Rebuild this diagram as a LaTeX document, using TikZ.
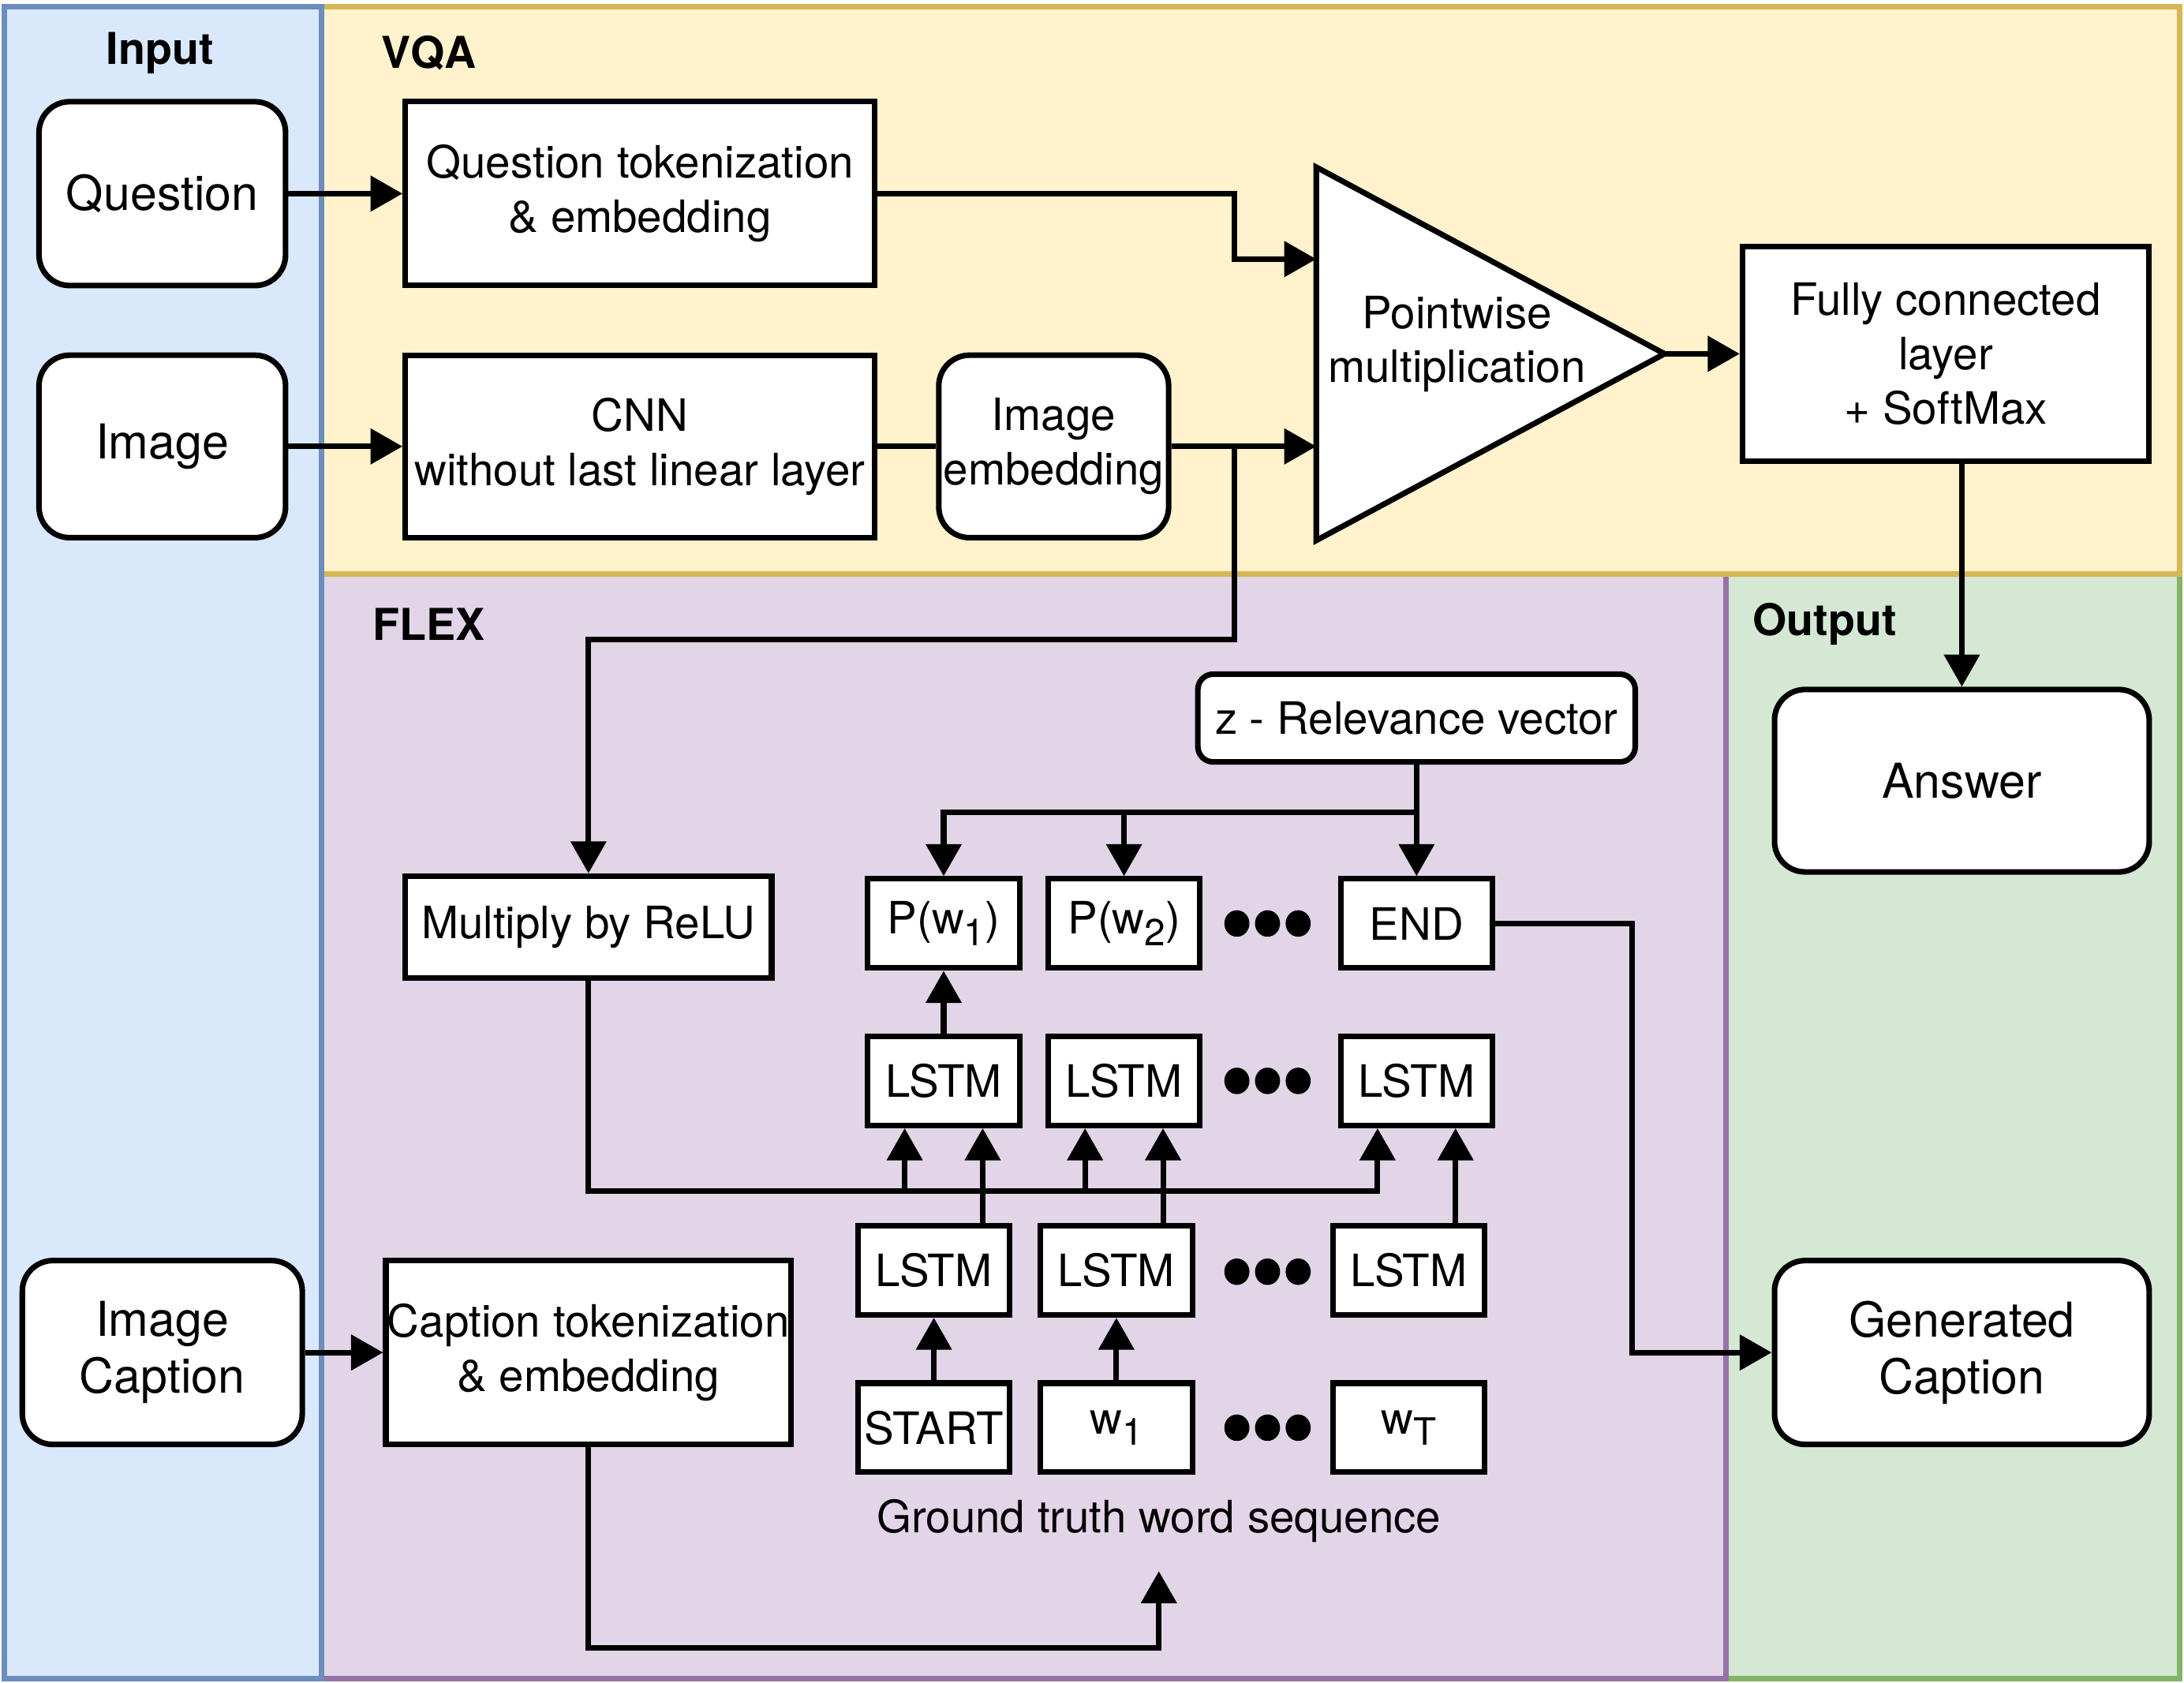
\documentclass[tikz,border=0pt]{standalone}
\usepackage{fontspec}
\setmainfont{TeX Gyre Heros}
\usetikzlibrary{arrows.meta}
\definecolor{inputfill}{HTML}{DAE8FC}
\definecolor{inputline}{HTML}{6C8EBF}
\definecolor{vqafill}{HTML}{FFF2CC}
\definecolor{vqaline}{HTML}{D6B656}
\definecolor{flexfill}{HTML}{E1D5E7}
\definecolor{flexline}{HTML}{9673A6}
\definecolor{outputfill}{HTML}{D5E8D4}
\definecolor{outputline}{HTML}{82B366}
\tikzset{
  lane/.style={line width=4pt},
  lanelabel/.style={font=\fontsize{31.5}{37}\selectfont\bfseries},
  box/.style={draw, fill=white, line width=4pt, inner sep=0pt, align=center, font=\fontsize{32}{39}\selectfont},
  rbox/.style={box, rounded corners=22pt},
  iobox/.style={rbox, font=\fontsize{34.5}{41}\selectfont},
  wire/.style={line width=4pt},
  flow/.style={wire, -{Triangle[length=23pt,width=25pt]}},
}
\newcommand{\wsub}[1]{\raisebox{-8pt}{\fontsize{27}{27}\selectfont #1}}
\begin{document}
\begin{tikzpicture}[x=1pt,y=-1pt]
	\useasboundingbox (0,0) rectangle (1568,1208);
	%lanes
	\draw[lane,draw=outputline,fill=outputfill] (1239,412) rectangle (1565,1205);
	\draw[lane,draw=flexline,fill=flexfill] (231,412) rectangle (1239,1205);
	\draw[lane,draw=vqaline,fill=vqafill] (231,5) rectangle (1565,412);
	\draw[lane,draw=inputline,fill=inputfill] (3,5) rectangle (231,1205);
	\node[lanelabel](inputlbl) at (115,38) {Input};
	\node[lanelabel](vqalbl) at (308,38) {VQA};
	\node[lanelabel](flexlbl) at (308,448) {FLEX};
	\node[lanelabel](outputlbl) at (1310,448) {Output};
	%inputs
	\node[iobox,minimum width=177,minimum height=132](question) at (116.5,139) {Question};
	\node[iobox,minimum width=177,minimum height=131](image) at (116.5,320.5) {Image};
	\node[iobox,minimum width=201,minimum height=132](imgcap) at (116.5,971) {Image\\Caption};
	%vqa
	\node[box,minimum width=337,minimum height=132](qtok) at (459.5,139) {Question tokenization\\\& embedding};
	\node[box,minimum width=337,minimum height=131](cnn) at (459.5,320.5) {CNN\\without last linear layer};
	\node[rbox,minimum width=165,minimum height=131](imgemb) at (756.5,320.5) {Image\\embedding};
	\draw[wire,fill=white] (945,120) -- (1195,254) -- (945,388) -- cycle;
	\node[align=center,font=\fontsize{32}{39}\selectfont](pwlbl) at (1046,247) {Pointwise\\multiplication};
	\coordinate (pwin1) at (945,186);
	\coordinate (pwin2) at (945,320.5);
	\coordinate (pwout) at (1195,254);
	\node[box,minimum width=292,minimum height=154](fc) at (1397,254) {Fully connected\\layer\\+ SoftMax};
	%outputs
	\node[iobox,minimum width=269,minimum height=131](answer) at (1408.5,560.5) {Answer};
	\node[iobox,minimum width=269,minimum height=132](gencap) at (1408.5,971) {Generated\\Caption};
	%flex
	\node[rbox,rounded corners=11pt,minimum width=314,minimum height=63](zrel) at (1017,515.5) {z - Relevance vector};
	\node[box,minimum width=263,minimum height=73](relu) at (422.5,665.5) {Multiply by ReLU};
	\node[box,minimum width=291,minimum height=132](captok) at (422.5,971) {Caption tokenization\\\& embedding};
	\node[box,minimum width=109,minimum height=64](pw1) at (677.5,663) {P(w\wsub{1})};
	\node[box,minimum width=109,minimum height=64](pw2) at (807,663) {P(w\wsub{2})};
	\node[box,minimum width=109,minimum height=64](endw) at (1017,663) {END};
	\node[box,minimum width=109,minimum height=64](la1) at (677.5,776) {LSTM};
	\node[box,minimum width=109,minimum height=64](la2) at (807,776) {LSTM};
	\node[box,minimum width=109,minimum height=64](la3) at (1017,776) {LSTM};
	\node[box,minimum width=109,minimum height=64](lb1) at (670.5,912) {LSTM};
	\node[box,minimum width=109,minimum height=64](lb2) at (801.5,912) {LSTM};
	\node[box,minimum width=109,minimum height=64](lb3) at (1011.5,912) {LSTM};
	\node[box,minimum width=109,minimum height=64](start) at (670.5,1025) {START};
	\node[box,minimum width=109,minimum height=64](w1) at (801.5,1025) {w\wsub{1}};
	\node[box,minimum width=109,minimum height=64](wt) at (1011.5,1025) {w\wsub{T}};
	\node[font=\fontsize{32}{39}\selectfont](gts) at (832,1092) {Ground truth word sequence};
	\foreach \y in {663,776,913,1025}
		\foreach \x in {888,910,932}
			\fill (\x,\y) ellipse (9pt and 9.5pt);
	%helper points
	\coordinate (split) at (886,320.5);
	\coordinate (turn) at (886,459);
	\coordinate (zsplit) at (1017,583);
	\coordinate (bus) at (422.5,855);
	\coordinate (capturn) at (832,1183);
	\coordinate (gtsin) at (832,1128);
	\coordinate (endturn) at (1172,663);
	\foreach \i in {1,2,3} {
		\coordinate (ra\i) at ([xshift=-28pt]la\i.south);
		\coordinate (ha\i) at ([xshift=28pt]la\i.south);
	}
	%arrows
	\draw[flow] (question) -- (qtok);
	\draw[flow] (image) -- (cnn);
	\draw[flow] (imgcap) -- (captok);
	\draw[flow] (qtok.east) -| (split |- pwin1) -- (pwin1);
	\draw[wire] (cnn) -- (imgemb);
	\draw[flow] (imgemb) -- (pwin2);
	\draw[flow] (split) -- (turn) -| (relu.north);
	\draw[flow] (pwout) -- (fc);
	\draw[flow] (fc.south -| answer.north) -- (answer.north);
	\draw[flow] (zrel) -- (endw);
	\draw[flow] (zsplit) -| (pw1.north);
	\draw[flow] (zsplit) -| (pw2.north);
	\draw[flow] (la1) -- (pw1);
	\draw[flow] (relu.south) -- (bus) -| (ra3);
	\draw[flow] (ra1 |- bus) -- (ra1);
	\draw[flow] (ra2 |- bus) -- (ra2);
	\foreach \i in {1,2,3}
		\draw[flow] (ha\i |- lb\i.north) -- (ha\i);
	\draw[flow] (start) -- (lb1);
	\draw[flow] (w1) -- (lb2);
	\draw[flow] (captok.south) |- (capturn) -- (gtsin);
	\draw[flow] (endw) -- (endturn) |- (gencap);
\end{tikzpicture}
\end{document}
